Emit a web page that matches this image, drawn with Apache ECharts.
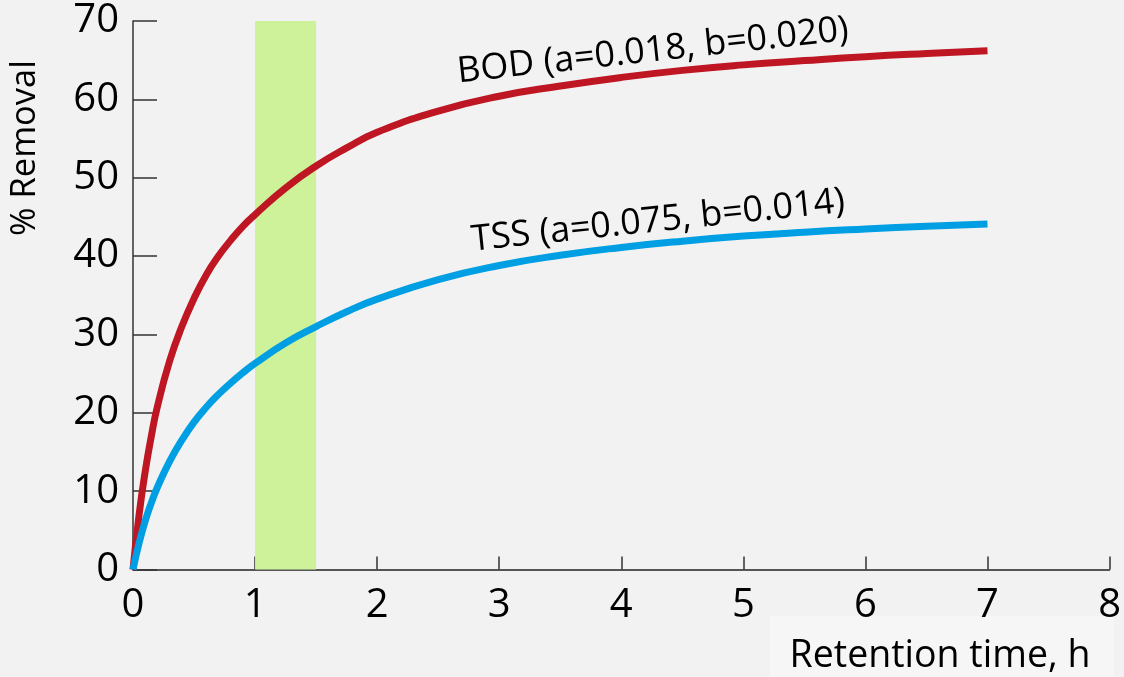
<!DOCTYPE html>
<html>
<head>
<meta charset="utf-8">
<script src="https://cdn.jsdelivr.net/npm/echarts@6/dist/echarts.min.js"></script>
<style>
html,body{margin:0;padding:0;background:#f2f2f2;}
#c{width:1124px;height:677px;}
</style>
</head>
<body>
<div id="c"></div>
<script>
// Retention time (h)
const times = [0, 0.05, 0.1, 0.15, 0.2, 0.3, 0.4, 0.5, 0.6, 0.7, 0.8, 0.9, 1.0, 1.25, 1.5, 1.75, 2.0, 2.5, 3.0, 3.5, 4.0, 4.5, 5.0, 5.5, 6.0, 6.5, 7.0];
// % Removal
const bodValues = [0, 7, 12.5, 17, 20.8, 26.6, 31.0, 34.6, 37.6, 40.0, 42.0, 43.8, 45.3, 48.7, 51.5, 53.8, 55.8, 58.5, 60.4, 61.7, 62.8, 63.7, 64.4, 64.95, 65.45, 65.85, 66.2];
const tssValues = [0, 3.4, 6.2, 8.5, 10.5, 13.8, 16.5, 18.8, 20.7, 22.35, 23.8, 25.1, 26.3, 28.9, 31.0, 32.9, 34.5, 37.0, 38.8, 40.1, 41.1, 41.9, 42.55, 43.05, 43.45, 43.8, 44.1];
const bandRange = [1, 1.5];
const bodLabel = 'BOD (a=0.018, b=0.020)';
const tssLabel = 'TSS (a=0.075, b=0.014)';
const xName = 'Retention time, h';
const yName = '% Removal';

const FONT = 'Open Sans';
const chart = echarts.init(document.getElementById('c'));
const pair = (vals) => times.map((t, i) => [t, vals[i]]);

chart.setOption({
  backgroundColor: '#f2f2f2',
  animation: false,
  grid: {left: 133, right: 11, top: 21, bottom: 107.5, containLabel: false},
  xAxis: {
    type: 'value', min: 0, max: 8, interval: 1,
    axisLine: {show: true, onZero: false, lineStyle: {color: '#222', width: 1.5}},
    axisTick: {show: true, inside: true, length: 13, lineStyle: {color: '#333', width: 1.5}},
    splitLine: {show: false},
    axisLabel: {fontFamily: FONT, fontSize: 40, color: '#000', margin: 16}
  },
  yAxis: {
    type: 'value', min: 0, max: 70, interval: 10,
    axisLine: {show: true, lineStyle: {color: '#333', width: 1.5}},
    axisTick: {show: true, inside: true, length: 24, lineStyle: {color: '#333', width: 1.5}},
    splitLine: {show: false},
    axisLabel: {fontFamily: FONT, fontSize: 40, color: '#000', margin: 14}
  },
  series: [
    {
      type: 'line', data: [], z: 1, silent: true,
      markArea: {
        silent: true,
        itemStyle: {color: '#cdf29a', opacity: 1},
        data: [[{xAxis: bandRange[0], yAxis: 0}, {xAxis: bandRange[1], yAxis: 70}]]
      }
    },
    {
      name: 'BOD', type: 'line', data: pair(bodValues), smooth: true, showSymbol: false, symbol: 'none', z: 3,
      lineStyle: {color: '#be1622', width: 7, cap: 'butt'}
    },
    {
      name: 'TSS', type: 'line', data: pair(tssValues), smooth: true, showSymbol: false, symbol: 'none', z: 3,
      lineStyle: {color: '#009fe3', width: 7, cap: 'butt'}
    }
  ],
  graphic: [
    {type: 'text', x: 25, y: 148, rotation: Math.PI / 2,
     style: {text: yName, fontFamily: FONT, fontSize: 34.5, fill: '#000', textAlign: 'center', textVerticalAlign: 'middle'}},
    {type: 'rect', shape: {x: 770, y: 616, width: 344, height: 61}, style: {fill: '#f6f6f6'}},
    {type: 'text', x: 940, y: 656,
     style: {text: xName, fontFamily: FONT, fontSize: 37.5, fill: '#000', textAlign: 'center', textVerticalAlign: 'middle'}},
    {type: 'text', x: 653, y: 51, rotation: 0.108,
     style: {text: bodLabel, fontFamily: FONT, fontSize: 36, fill: '#000', textAlign: 'center', textVerticalAlign: 'middle'}},
    {type: 'text', x: 658, y: 221, rotation: 0.104,
     style: {text: tssLabel, fontFamily: FONT, fontSize: 36, fill: '#000', textAlign: 'center', textVerticalAlign: 'middle'}}
  ]
});
</script>
</body>
</html>
